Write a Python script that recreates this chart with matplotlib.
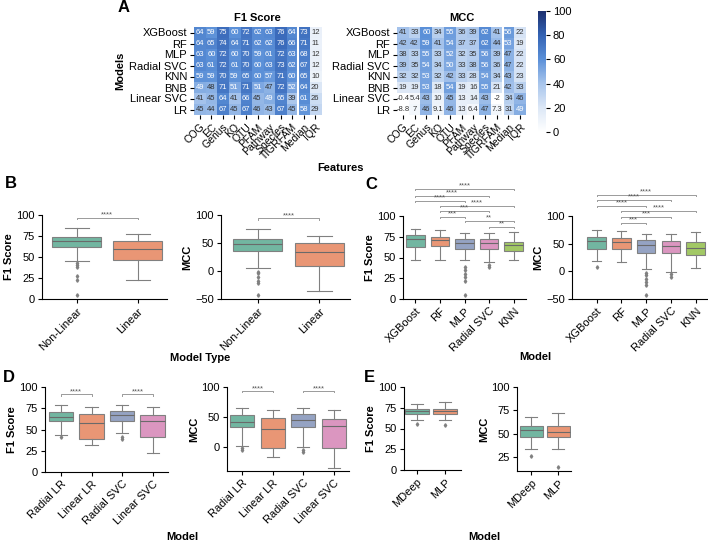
import numpy as np
import matplotlib
matplotlib.use("Agg")
import matplotlib.pyplot as plt
from matplotlib.colors import LinearSegmentedColormap, to_rgb
import seaborn as sns

plt.rcParams['font.family'] = ['Liberation Sans', 'DejaVu Sans']
plt.rcParams['axes.linewidth'] = 0.8

# ---- panel A data ----
features = ['COG', 'EC', 'Genus', 'KO', 'OTU', 'PFAM', 'Pathway', 'Species',
            'TIGRFAM', 'Median', 'IQR']
models = ['XGBoost', 'RF', 'MLP', 'Radial SVC', 'KNN', 'BNB', 'Linear SVC', 'LR']
f1_scores = [
    [64, 59, 75, 60, 72, 62, 63, 76, 64, 73, 12],
    [64, 65, 74, 64, 71, 62, 62, 76, 66, 71, 11],
    [63, 60, 72, 60, 70, 59, 61, 72, 63, 68, 12],
    [63, 61, 72, 61, 70, 60, 63, 73, 62, 67, 12],
    [59, 59, 70, 59, 65, 60, 57, 71, 60, 65, 10],
    [49, 48, 71, 51, 71, 51, 47, 72, 52, 64, 20],
    [41, 45, 64, 41, 66, 45, 49, 65, 39, 61, 26],
    [45, 44, 67, 45, 67, 46, 43, 67, 45, 58, 29],
]
mcc_scores = [
    [41, 33, 60, 34, 55, 36, 39, 62, 41, 56, 22],
    [42, 42, 59, 41, 54, 37, 37, 62, 44, 53, 19],
    [38, 33, 55, 33, 52, 32, 35, 56, 39, 47, 22],
    [39, 35, 54, 34, 50, 33, 38, 56, 36, 47, 22],
    [32, 32, 53, 32, 42, 33, 28, 54, 34, 43, 23],
    [19, 19, 53, 18, 54, 19, 16, 55, 21, 42, 33],
    [-0.4, 5.4, 43, 10, 45, 13, 14, 43, -2, 34, 46],
    [-8.8, 7, 46, 9.1, 46, 13, 6.4, 47, 7.3, 31, 49],
]

# ---- panel B data: (whislo, q1, median, q3, whishi) ----
b_groups = ['Non-Linear', 'Linear']
b_f1_box = [(45.5, 61.5, 68.5, 74, 84), (22.5, 47, 60, 69.5, 77)]
b_f1_fliers = [[43, 41, 38.5, 27.5, 23, 5], []]
b_mcc_box = [(5, 36, 49, 58, 75), (-35.5, 9, 34.5, 50.5, 63)]
b_mcc_fliers = [[-1, -4, -10, -17, -22, -43], []]

# ---- panel C data ----
c_models = ['XGBoost', 'RF', 'MLP', 'Radial SVC', 'KNN']
c_f1_box = [(47, 63, 72, 77, 84), (47, 63.5, 71, 74.5, 83), (47, 60.5, 68, 72.5, 79),
            (45, 60, 68, 72, 79), (46.5, 57.5, 64.5, 68.5, 81)]
c_f1_fliers = [[], [], [38, 35, 30, 26, 22, 5], [41.5, 38.5], []]
c_mcc_box = [(19, 40, 55, 61.5, 74), (17, 40, 53, 59.5, 72), (5, 34, 47, 56.5, 67),
             (-1, 32.5, 46, 55, 67), (6, 29, 42, 52.5, 71)]
c_mcc_fliers = [[7], [], [-2.5, -7, -13, -19, -25, -43], [-5, -10], []]
c_f1_sig = [(0, 4, '****', 132.5), (0, 3, '****', 124.5), (0, 2, '****', 118),
            (1, 4, '****', 112.5), (1, 3, '***', 106.5), (1, 2, '***', 99),
            (2, 4, '**', 94), (3, 4, '**', 87)]
c_mcc_sig = [(0, 4, '****', 138), (0, 3, '****', 129), (0, 2, '****', 118.5),
             (1, 4, '****', 109), (1, 3, '***', 99), (1, 2, '***', 88)]

# ---- panel D data ----
d_models = ['Radial LR', 'Linear LR', 'Radial SVC', 'Linear SVC']
d_f1_box = [(44, 59.5, 64.5, 71, 79), (32, 39, 58, 68, 76),
            (46, 60, 67.5, 72, 79), (22.5, 41, 60.5, 66.5, 76)]
d_f1_fliers = [[41], [], [41, 38.5], []]
d_mcc_box = [(3, 33, 42, 54, 66), (-15.5, -1.5, 31, 48, 61.5),
             (0, 33, 46, 55.5, 66), (-34.5, -0.5, 35, 46.5, 61.5)]
d_mcc_fliers = [[-0.5, -4.5], [], [-4.5, -7], []]
d_f1_sig = [(0, 1, '****', 91.5), (2, 3, '****', 91.5)]
d_mcc_sig = [(0, 1, '****', 93), (2, 3, '****', 93)]

# ---- panel E data ----
e_models = ['MDeep', 'MLP']
e_f1_box = [(60, 67.5, 71, 74, 80), (60.5, 67.5, 70.5, 74, 82)]
e_f1_fliers = [[55], [54]]
e_mcc_box = [(33.5, 46.5, 54, 58.5, 68.5), (33.5, 47, 52, 58, 72)]
e_mcc_fliers = [[26], [14.5]]

W, H = 708, 542
fig = plt.figure(figsize=(W / 100, H / 100), dpi=100)


def add_ax(x0, y0, x1, y1):
    return fig.add_axes([x0 / W, 1 - y1 / H, (x1 - x0) / W, (y1 - y0) / H])


cmap = LinearSegmentedColormap.from_list('hm', [
    (0.0, '#ffffff'), (0.2, '#dce7f6'), (0.4, '#a8c5ec'),
    (0.6, '#5b90d8'), (0.8, '#3463b4'), (1.0, '#1c2f6e')])


def lum(c):
    rgb = np.array(to_rgb(c))
    rgb = np.where(rgb <= 0.03928, rgb / 12.92, ((rgb + 0.055) / 1.055) ** 2.4)
    return 0.2126 * rgb[0] + 0.7152 * rgb[1] + 0.0722 * rgb[2]


def heatmap(ax, data, title, show_y):
    arr = np.array(data, dtype=float)
    im = ax.imshow(arr, cmap=cmap, vmin=0, vmax=100, aspect='auto')
    for i in range(arr.shape[0]):
        for j in range(arr.shape[1]):
            v = arr[i, j]
            col = 'white' if lum(cmap(v / 100)) < 0.408 else '#333333'
            ax.text(j, i, '{:.2g}'.format(v), ha='center', va='center',
                    fontsize=5.5, color=col)
    ax.axvline(8.5, color='white', lw=1.5)
    ax.set_xticks(range(len(features)))
    ax.set_xticklabels(features, rotation=45, ha='right', rotation_mode='anchor',
                       fontsize=7.5)
    ax.set_yticks(range(len(models)))
    ax.set_yticklabels(models, fontsize=8)
    ax.tick_params(length=3, width=0.8, pad=2)
    for s in ax.spines.values():
        s.set_visible(False)
    ax.set_title(title, fontsize=8, fontweight='bold', pad=4)
    if show_y:
        ax.set_ylabel('Models', fontsize=8, fontweight='bold', labelpad=3)
    return im


ax = add_ax(194, 27, 321, 115)
im = heatmap(ax, f1_scores, 'F1 Score', True)
ax = add_ax(397, 27, 526, 115)
heatmap(ax, mcc_scores, 'MCC', False)
cax = add_ax(538, 11, 546, 132)
cb = fig.colorbar(im, cax=cax, ticks=[0, 20, 40, 60, 80, 100])
cb.outline.set_visible(False)
cax.tick_params(labelsize=8, length=3, width=0.8, pad=2)
fig.text(340 / W, 1 - 168 / H, 'Features', fontsize=8, fontweight='bold',
         ha='center', va='center')

pal = [sns.desaturate(c, 0.75) for c in sns.color_palette('Set2', 5)]
grey = '#808080'


def draw_box(ax, names, boxes, fliers, ylim, yticks, ylabel, xlim, width=0.8):
    stats = []
    for name, (lo, q1, med, q3, hi), fl in zip(names, boxes, fliers):
        stats.append(dict(label=name, whislo=lo, q1=q1, med=med, q3=q3,
                          whishi=hi, fliers=fl))
    bp = ax.bxp(stats, positions=range(len(names)), widths=width,
                patch_artist=True,
                boxprops=dict(edgecolor=grey, linewidth=0.8),
                medianprops=dict(color='#6a6a6a', linewidth=0.8),
                whiskerprops=dict(color=grey, linewidth=0.8),
                capprops=dict(color=grey, linewidth=0.8),
                flierprops=dict(marker='d', markersize=1.8, markerfacecolor=grey,
                                markeredgecolor=grey))
    for patch, c in zip(bp['boxes'], pal):
        patch.set_facecolor(c)
    ax.set_ylim(*ylim)
    ax.set_xlim(*xlim)
    ax.set_yticks(yticks)
    ax.set_xticks(range(len(names)))
    ax.set_xticklabels(names, rotation=45, ha='right', rotation_mode='anchor',
                       fontsize=8)
    ax.tick_params(axis='y', labelsize=8, length=3, width=0.8, pad=2)
    ax.tick_params(axis='x', length=3, width=0.8, pad=2)
    ax.spines['top'].set_visible(False)
    ax.spines['right'].set_visible(False)
    ax.set_ylabel(ylabel, fontsize=8, fontweight='bold', labelpad=2)


def bracket(ax, sigs, leg):
    for i, j, txt, y in sigs:
        ax.plot([i, i, j, j], [y - leg, y, y, y - leg], color='#9a9a9a', lw=0.7,
                clip_on=False)
        ax.text((i + j) / 2, y - leg * 0.6, txt, ha='center', va='bottom',
                fontsize=5.5, color='#555555', clip_on=False)


# ---- B ----
ax = add_ax(42, 215, 167, 299)
draw_box(ax, b_groups, b_f1_box, b_f1_fliers, (0, 100), [0, 25, 50, 75, 100],
         'F1 Score', (-0.57, 1.48))
bracket(ax, [(0, 1, '****', 96.5)], 1.5)
ax = add_ax(221, 215, 350, 299)
draw_box(ax, b_groups, b_mcc_box, b_mcc_fliers, (-50, 100), [-50, 0, 50, 100],
         'MCC', (-0.6, 1.5))
bracket(ax, [(0, 1, '****', 94)], 2.2)
fig.text(200 / W, 1 - 358 / H, 'Model Type', fontsize=8, fontweight='bold',
         ha='center', va='center')

# ---- C ----
ax = add_ax(403, 216, 526, 299)
draw_box(ax, c_models, c_f1_box, c_f1_fliers, (0, 100), [0, 25, 50, 75, 100],
         'F1 Score', (-0.5, 4.5), width=0.75)
bracket(ax, c_f1_sig, 1.2)
ax = add_ax(572, 216, 708, 299)
draw_box(ax, c_models, c_mcc_box, c_mcc_fliers, (-50, 100), [-50, 0, 50, 100],
         'MCC', (-1.0, 4.5), width=0.75)
bracket(ax, c_mcc_sig, 1.8)
fig.text(535 / W, 1 - 357 / H, 'Model', fontsize=8, fontweight='bold',
         ha='center', va='center')

# ---- D ----
ax = add_ax(45, 387, 168, 472)
draw_box(ax, d_models, d_f1_box, d_f1_fliers, (0, 100), [0, 25, 50, 75, 100],
         'F1 Score', (-0.52, 3.5))
bracket(ax, d_f1_sig, 1.5)
ax = add_ax(227, 387, 349, 471)
draw_box(ax, d_models, d_mcc_box, d_mcc_fliers, (-39, 100), [0, 50, 100],
         'MCC', (-0.5, 3.5))
bracket(ax, d_mcc_sig, 2)
fig.text(182 / W, 1 - 537 / H, 'Model', fontsize=8, fontweight='bold',
         ha='center', va='center')

# ---- E ----
ax = add_ax(404, 387, 461, 470)
draw_box(ax, e_models, e_f1_box, e_f1_fliers, (0, 100), [0, 25, 50, 75, 100],
         'F1 Score', (-0.46, 1.57), width=0.85)
ax = add_ax(517, 387, 571, 471)
draw_box(ax, e_models, e_mcc_box, e_mcc_fliers, (10.5, 100), [25, 50, 75, 100],
         'MCC', (-0.52, 1.48), width=0.85)
fig.text(484 / W, 1 - 537 / H, 'Model', fontsize=8, fontweight='bold',
         ha='center', va='center')

# panel letters
for letter, x, y in [('A', 118, 7), ('B', 5, 183), ('C', 365, 185),
                     ('D', 3, 377), ('E', 364, 377)]:
    fig.text(x / W, 1 - y / H, letter, fontsize=12, fontweight='bold',
             ha='left', va='center')

fig.savefig('out.png', dpi=100)
